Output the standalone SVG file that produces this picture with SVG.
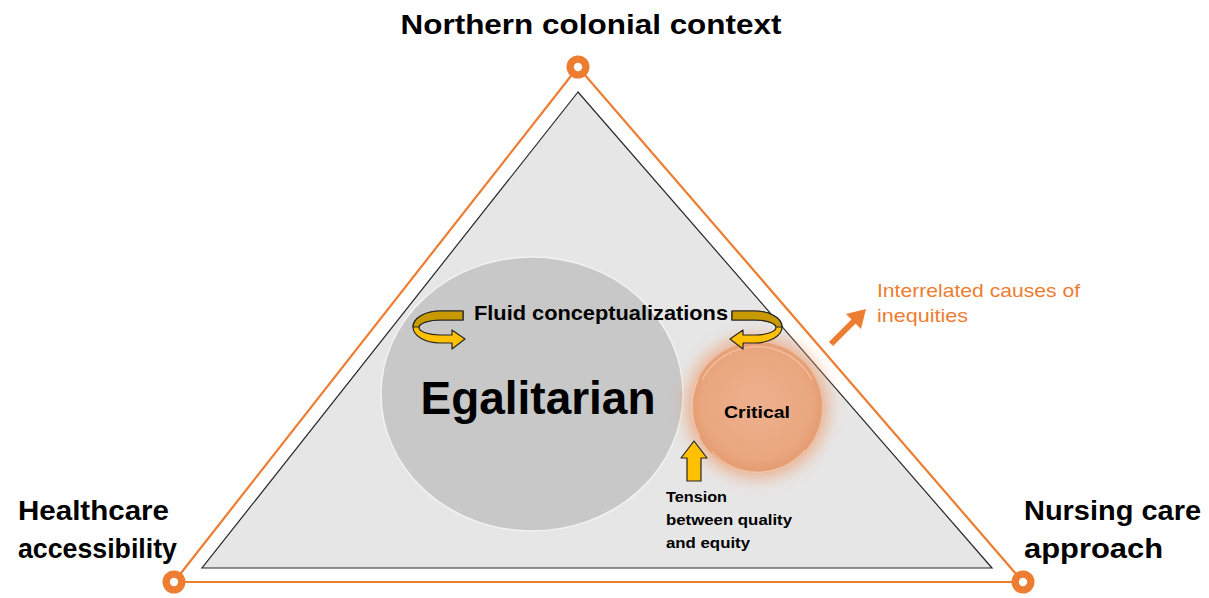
<svg xmlns="http://www.w3.org/2000/svg" width="1209" height="598" viewBox="0 0 1209 598">
<style>
.lbl{font-family:"Liberation Sans",Arial,sans-serif;font-weight:bold;fill:#000}
.org{font-family:"Liberation Sans",Arial,sans-serif;fill:#ED7D31}
.gold{fill:#FFC000;stroke:#262626;stroke-width:1.2;stroke-linejoin:round}
.goldb{fill:#C99A00;stroke:#262626;stroke-width:1.2;stroke-linejoin:round}
.dot{fill:#ED7D31}
</style>
<defs>
<filter id="glow" x="-50%" y="-50%" width="200%" height="200%">
<feGaussianBlur stdDeviation="8"/>
</filter>
<radialGradient id="crit" cx="50%" cy="48%" r="52%">
<stop offset="0" stop-color="#EDB08D"/>
<stop offset="0.8" stop-color="#EAA77F"/>
<stop offset="1" stop-color="#E59B70"/>
</radialGradient>
<path id="curl" d="M463,311 L440,311 A27,16 0 0 0 440,343 L452,343 L452,349 L465,339 L452,330 L452,335 L440,335 A21,7.5 0 0 1 440,320 L463,320 Z"/>
</defs>
<rect width="1209" height="598" fill="#fff"/>

<g id="outer-triangle">
<polygon points="578,67 174,582 1023,582" fill="none" stroke="#ED7D31" stroke-width="2.2"/>
</g>
<g id="inner-triangle">
<polygon points="578,92 202,568 992,568" fill="#E6E6E6" stroke="#262626" stroke-width="1.2"/>
</g>

<g id="egalitarian">
<ellipse cx="532" cy="394" rx="151" ry="137" fill="#C8C8C8" stroke="#F2F2F2" stroke-width="1.5"/>
<text class="lbl" x="538" y="414" font-size="46" text-anchor="middle" textLength="235" lengthAdjust="spacingAndGlyphs">Egalitarian</text>
</g>

<g id="critical">
<circle cx="757" cy="407" r="71" fill="#EE9A68" opacity="0.7" filter="url(#glow)"/>
<circle cx="757" cy="407" r="65" fill="url(#crit)"/>
<path d="M702,380 A62,62 0 0 1 812,380" fill="none" stroke="#F6CDB2" stroke-width="1.2" opacity="0.7"/>
<path d="M700,437 A64,64 0 0 1 698,380" fill="none" stroke="#F2E6DE" stroke-width="1" opacity="0.6"/>
<path d="M712,452 A62,62 0 0 0 805,450" fill="none" stroke="#F5D2BC" stroke-width="1.2" opacity="0.6"/>
<text class="lbl" x="757" y="418" font-size="17" text-anchor="middle" textLength="66" lengthAdjust="spacingAndGlyphs">Critical</text>
</g>

<g id="fluid">
<text class="lbl" x="601" y="320" font-size="21" text-anchor="middle" textLength="254" lengthAdjust="spacingAndGlyphs">Fluid conceptualizations</text>
<g id="curl-left">
<use href="#curl" class="gold"/>
<path class="goldb" d="M463,311 L440,311 A27,16 0 0 0 413,327 L419,327 A21,7.5 0 0 1 440,320 L463,320 Z"/>
</g>
<g id="curl-right" transform="translate(1195,0) scale(-1,1)">
<use href="#curl" class="gold"/>
<path class="goldb" d="M463,311 L440,311 A27,16 0 0 0 413,327 L419,327 A21,7.5 0 0 1 440,320 L463,320 Z"/>
</g>
</g>

<g id="tension">
<polygon class="gold" points="694,441 707,458 701,458 701,481 687,481 687,458 681,458"/>
<text class="lbl" font-size="15">
<tspan x="666" y="502" textLength="61" lengthAdjust="spacingAndGlyphs">Tension</tspan>
<tspan x="666" y="525" textLength="126" lengthAdjust="spacingAndGlyphs">between quality</tspan>
<tspan x="666" y="548" textLength="84" lengthAdjust="spacingAndGlyphs">and equity</tspan>
</text>
</g>

<g id="connectors">
<line x1="831" y1="344" x2="855" y2="320" stroke="#ED7D31" stroke-width="6"/>
<polygon points="866,309 861,329 846,314" fill="#ED7D31"/>
</g>

<g id="inequities">
<text class="org" font-size="19">
<tspan x="877" y="297" textLength="203" lengthAdjust="spacingAndGlyphs">Interrelated causes of</tspan>
<tspan x="877" y="322" textLength="91" lengthAdjust="spacingAndGlyphs">inequities</tspan>
</text>
</g>

<g id="vertex-top">
<circle class="dot" cx="578" cy="67" r="11.5"/>
<circle cx="578" cy="67" r="4.2" fill="#fff"/>
<text class="lbl" x="591" y="34" font-size="28" text-anchor="middle" textLength="381" lengthAdjust="spacingAndGlyphs">Northern colonial context</text>
</g>
<g id="vertex-left">
<circle class="dot" cx="174" cy="582" r="11.5"/>
<circle cx="174" cy="582" r="4.2" fill="#fff"/>
<text class="lbl" font-size="28">
<tspan x="18" y="520" textLength="151" lengthAdjust="spacingAndGlyphs">Healthcare</tspan>
<tspan x="18" y="558" textLength="159" lengthAdjust="spacingAndGlyphs">accessibility</tspan>
</text>
</g>
<g id="vertex-right">
<circle class="dot" cx="1023" cy="582" r="11.5"/>
<circle cx="1023" cy="582" r="4.2" fill="#fff"/>
<text class="lbl" font-size="28">
<tspan x="1024" y="520" textLength="177" lengthAdjust="spacingAndGlyphs">Nursing care</tspan>
<tspan x="1024" y="558" textLength="139" lengthAdjust="spacingAndGlyphs">approach</tspan>
</text>
</g>
</svg>
